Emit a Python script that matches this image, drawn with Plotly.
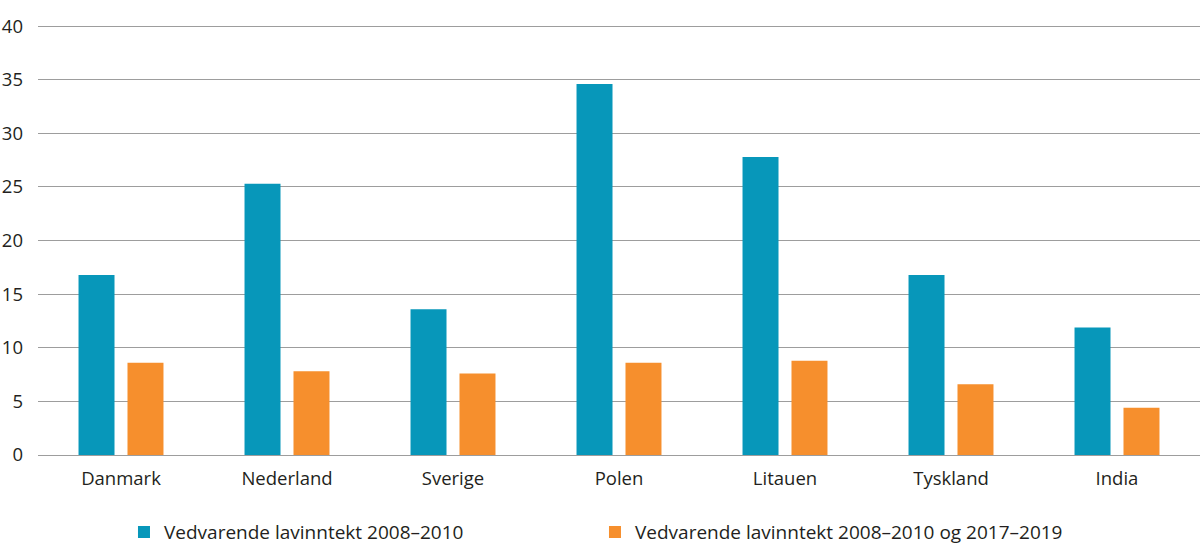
import plotly.graph_objects as go

categories = ["Danmark", "Nederland", "Sverige", "Polen", "Litauen", "Tyskland", "India"]
series_names = ["Vedvarende lavinntekt 2008–2010", "Vedvarende lavinntekt 2008–2010 og 2017–2019"]
values_2008_2010 = [16.8, 25.3, 13.6, 34.6, 27.8, 16.8, 11.9]
values_both = [8.6, 7.8, 7.6, 8.6, 8.8, 6.6, 4.4]
y_ticks = [0, 5, 10, 15, 20, 25, 30, 35, 40]

BLUE = "#0797BA"
ORANGE = "#F68F2D"
FONT = "Open Sans"
TXT = "#231F20"

fig = go.Figure()
fig.add_trace(go.Bar(x=categories, y=values_2008_2010, name=series_names[0],
                     marker=dict(color=BLUE, line=dict(width=0))))
fig.add_trace(go.Bar(x=categories, y=values_both, name=series_names[1],
                     marker=dict(color=ORANGE, line=dict(width=0))))

fig.update_layout(
    width=1200, height=560,
    margin=dict(l=38, r=0, t=24, b=105, autoexpand=False),
    paper_bgcolor="white", plot_bgcolor="white",
    barmode="group", bargap=0.41, bargroupgap=0.265,
    font=dict(family=FONT, size=18, color=TXT),
    showlegend=True,
    legend=dict(orientation="h", x=0.074, xanchor="left", y=-0.135, yanchor="top",
                font=dict(family=FONT, size=19, color=TXT),
                entrywidth=426, entrywidthmode="pixels", itemwidth=30,
                traceorder="normal"),
)
fig.update_xaxes(showgrid=False, showline=False, ticks="", tickfont=dict(size=18.5),
                 ticklabelstandoff=10, automargin=False)
fig.update_yaxes(range=[0, 40.2], tickvals=y_ticks, showgrid=True, gridcolor="#9D9D9D",
                 gridwidth=1.3, zeroline=True, zerolinecolor="#9D9D9D", zerolinewidth=1.3,
                 showline=False, ticks="", tickfont=dict(size=18.5), ticklabelstandoff=14,
                 automargin=False)

fig.write_html("out.html", config={"displayModeBar": False},
               post_script="document.body.style.margin='0px';")
